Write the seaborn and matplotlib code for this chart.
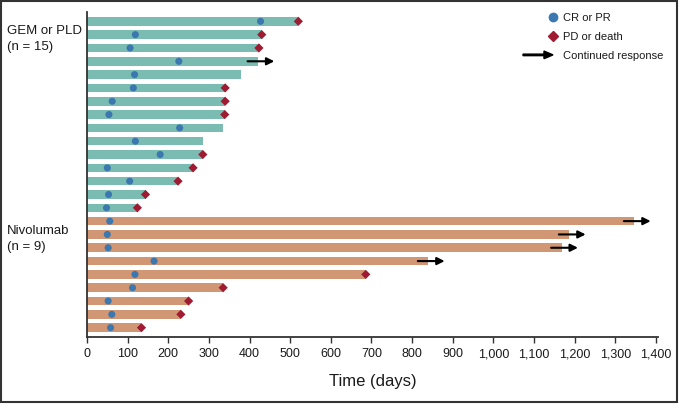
import pandas as pd
import matplotlib
matplotlib.use("Agg")
import matplotlib.pyplot as plt
import matplotlib.patches as mpatches
import matplotlib.ticker as ticker
from matplotlib.lines import Line2D
from matplotlib.legend_handler import HandlerBase
import seaborn as sns

# one row per patient, top to bottom
groups = ["GEM or PLD"] * 15 + ["Nivolumab"] * 9
duration = [520, 430, 423, 421, 378, 340, 340, 339, 335, 286, 285, 261, 224, 144, 124,
            1347, 1187, 1168, 840, 686, 335, 250, 231, 134]
response_day = [427, 119, 106, 226, 117, 114, 62, 54, 228, 119, 180, 50, 105, 53, 48,
                56, 50, 52, 165, 118, 112, 52, 61, 58]
progressed = [1, 1, 1, 0, 0, 1, 1, 1, 0, 0, 1, 1, 1, 1, 1,
              0, 0, 0, 0, 1, 1, 1, 1, 1]
continued = [0, 0, 0, 1, 0, 0, 0, 0, 0, 0, 0, 0, 0, 0, 0,
             1, 1, 1, 1, 0, 0, 0, 0, 0]
group_labels = ["GEM or PLD\n(n = 15)", "Nivolumab\n(n = 9)"]
x_ticks = list(range(0, 1401, 100))

df = pd.DataFrame({
    "row": list(range(len(groups))),
    "group": groups,
    "duration": duration,
    "response": response_day,
    "progressed": progressed,
    "continued": continued,
})

TEAL = "#7ABBB2"
ORANGE = "#D19673"
BLUE = "#3B78B0"
RED = "#9E1B32"
INK = "#1a1a1a"

sns.set_style("white")
plt.rcParams["font.family"] = ["Liberation Sans", "DejaVu Sans"]
plt.rcParams["text.color"] = INK
plt.rcParams["axes.labelcolor"] = INK
plt.rcParams["xtick.color"] = INK

W, H = 681, 404
fig = plt.figure(figsize=(W / 100, H / 100), dpi=100)
ax = fig.add_axes([87 / W, 1 - 337 / H, 571 / W, 325 / H])

sns.barplot(data=df, x="duration", y="row", hue="group", orient="h", dodge=False,
            order=df["row"].tolist(), palette=[TEAL, ORANGE], width=0.64, saturation=1,
            errorbar=None, legend=False, linewidth=0, ax=ax, zorder=1)

sns.scatterplot(data=df, x="response", y="row", marker="o", color=BLUE, s=26,
                edgecolor="none", ax=ax, zorder=3)
sns.scatterplot(data=df[df["progressed"] == 1], x="duration", y="row", marker="D",
                color=RED, s=22, edgecolor="none", ax=ax, zorder=4)

for _, r in df[df["continued"] == 1].iterrows():
    ax.annotate("", xy=(r["duration"] + 40, r["row"]), xytext=(r["duration"] - 26, r["row"]),
                arrowprops=dict(arrowstyle="-|>", color="black", lw=1.5,
                                mutation_scale=11, shrinkA=0, shrinkB=0), zorder=5)

ax.set_xlim(0, 1405)
ax.set_ylim(23.7, -0.7)
ax.set_xticks(x_ticks)
ax.xaxis.set_major_formatter(ticker.FuncFormatter(lambda v, p: f"{int(v):,}"))
ax.set_yticks([])
ax.set_ylabel("")
ax.set_xlabel("Time (days)", fontsize=12, labelpad=10)
ax.tick_params(axis="x", direction="out", length=4, width=1, color="#333333",
               labelsize=9, pad=4, bottom=True)
for side in ["top", "right"]:
    ax.spines[side].set_visible(False)
for side in ["left", "bottom"]:
    ax.spines[side].set_color("#333333")
    ax.spines[side].set_linewidth(1.3)

fig.text(7 / W, 1 - 39 / H, group_labels[0], fontsize=9.5, ha="left", va="center",
         linespacing=1.45)
fig.text(7 / W, 1 - 239 / H, group_labels[1], fontsize=9.5, ha="left", va="center",
         linespacing=1.45)


class RightMarker(HandlerBase):
    def create_artists(self, legend, orig, xdescent, ydescent, width, height, fontsize, trans):
        m = Line2D([width - xdescent], [height / 2 - ydescent], marker=orig.get_marker(),
                   color=orig.get_color(), markersize=orig.get_markersize(),
                   linestyle="none", transform=trans)
        return [m]


class ArrowHandle(HandlerBase):
    def create_artists(self, legend, orig, xdescent, ydescent, width, height, fontsize, trans):
        a = mpatches.FancyArrow(-xdescent, height / 2 - ydescent, width, 0, width=1.1,
                                head_width=5.5, head_length=6.5, length_includes_head=True,
                                color="black", transform=trans)
        return [a]


h_cr = Line2D([], [], marker="o", color=BLUE, markersize=6, linestyle="none")
h_pd = Line2D([], [], marker="D", color=RED, markersize=5.5, linestyle="none")
h_cont = mpatches.Patch(color="black")
ax.legend([h_cr, h_pd, h_cont], ["CR or PR", "PD or death", "Continued response"],
          handler_map={h_cr: RightMarker(), h_pd: RightMarker(), h_cont: ArrowHandle()},
          loc="upper left", bbox_to_anchor=(523 / W, 1 - 13 / H), bbox_transform=fig.transFigure,
          frameon=False, fontsize=8, handlelength=2.7, handletextpad=0.9,
          labelspacing=0.8, borderpad=0, borderaxespad=0)

fig.patches.append(mpatches.Rectangle((1 / W, 2 / H), 676 / W, 1 - 3 / H, transform=fig.transFigure,
                                      fill=False, edgecolor="#333333", linewidth=1.5))

fig.savefig("out.png", dpi=100)
